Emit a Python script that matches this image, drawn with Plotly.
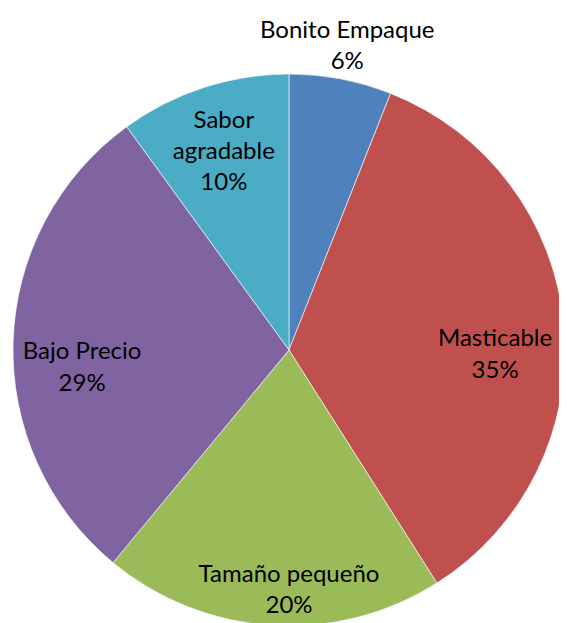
import math
import plotly.graph_objects as go

# slice data, clockwise from 12 o'clock
labels = ["Bonito Empaque", "Masticable", "Tamaño pequeño", "Bajo Precio", "Sabor agradable"]
shown = ["Bonito Empaque", "Masticable", "Tamaño pequeño", "Bajo Precio", "Sabor<br>agradable"]
values = [6, 35, 20, 29, 10]
colors = ["#4F81BD", "#C0504D", "#9BBB59", "#8064A2", "#4BACC6"]
outside = [True, False, False, False, False]

FONT = dict(family="Lato", size=24, color="black")
PIE = 552      # pie diameter, px
DROP = 22      # most labels sit a little below the slice middle
NO_DROP = {"Sabor agradable"}


def main():
  total = sum(values)
  pct = [f"{round(100 * v / total)}%" for v in values]
  area_h = PIE + DROP
  pie_y = [DROP / area_h, 1]
  low_y = [0, PIE / area_h]

  fig = go.Figure()
  # the coloured pie
  fig.add_trace(go.Pie(
    labels=labels, values=values, sort=False, direction="clockwise", rotation=0,
    domain=dict(x=[0, 1], y=pie_y),
    marker=dict(colors=colors, line=dict(color="rgba(255,255,255,0.6)", width=1)),
    textinfo="none", hoverinfo="label+percent",
  ))
  # transparent rings on top, only to hold labels out towards the rim
  for dom, dropped in ((low_y, True), (pie_y, False)):
    txt = []
    for lab, s, p, o in zip(labels, shown, pct, outside):
      keep = (not o) and ((lab not in NO_DROP) == dropped)
      txt.append(f"{s}<br>{p}" if keep else "")
    fig.add_trace(go.Pie(
      labels=labels, values=values, sort=False, direction="clockwise", rotation=0,
      domain=dict(x=[0, 1], y=dom),
      hole=0.5, text=txt, texttemplate="%{text}", textposition="inside",
      insidetextorientation="horizontal",
      marker=dict(colors=["rgba(0,0,0,0)"] * len(values), line=dict(width=0)),
      textfont=FONT, hoverinfo="skip",
    ))

  # labels that sit outside the pie, over the middle of their slice
  cy = sum(pie_y) / 2
  ry = (pie_y[1] - pie_y[0]) / 2
  cum = 0
  for v, s, p, o in zip(values, shown, pct, outside):
    mid = 2 * math.pi * (cum + v / 2) / total
    cum += v
    if not o:
      continue
    fig.add_annotation(
      text=f"{s}<br>{p}", showarrow=False, xref="paper", yref="paper",
      x=0.5 + 0.5 * 1.13 * math.sin(mid), y=cy + ry * 1.13 * math.cos(mid),
      xanchor="center", yanchor="middle", font=FONT,
    )

  fig.update_layout(
    width=559, height=66 + area_h,
    margin=dict(l=5, r=2, t=66, b=0),
    showlegend=False,
    paper_bgcolor="white",
    uniformtext=dict(minsize=24, mode="show"),
  )
  fig.write_html("out.html")
  return 0


if __name__ == '__main__':
  main()
